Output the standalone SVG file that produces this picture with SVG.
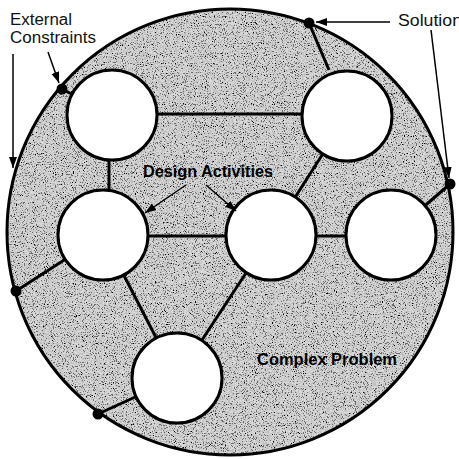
<svg xmlns="http://www.w3.org/2000/svg" width="459" height="459" viewBox="0 0 459 459">
<style>
.lbl{font-family:"Liberation Sans",Arial,sans-serif;font-size:16px;fill:#111}
.bold{font-family:"Liberation Sans",Arial,sans-serif;font-size:16px;font-weight:bold;fill:#000}
.node{fill:#fff;stroke:#000;stroke-width:3}
.conn{stroke:#000;stroke-width:3;fill:none}
.arr{stroke:#000;stroke-width:1.5;fill:none;marker-end:url(#ah)}
.dot{fill:#000}
</style>
<defs>
<marker id="ah" markerUnits="userSpaceOnUse" markerWidth="12" markerHeight="10" refX="11" refY="4" orient="auto">
<path d="M0,0 L11,4 L0,8 Z" fill="#000"/>
</marker>
<filter id="noise" x="0" y="0" width="100%" height="100%">
<feTurbulence type="fractalNoise" baseFrequency="0.9" numOctaves="3" seed="7" result="t"/>
<feColorMatrix in="t" type="matrix" values="0 0 0 0 0  0 0 0 0 0  0 0 0 0 0  1 0 0 0 0" result="a"/>
<feComponentTransfer in="a" result="s"><feFuncA type="discrete" tableValues="0 0 0 0 0.12 0.5 1 1"/></feComponentTransfer>
<feComposite in="s" in2="SourceGraphic" operator="in"/>
</filter>
</defs>
<rect width="459" height="459" fill="#fff"/>
<g id="problem">
<circle cx="230" cy="232" r="223" fill="#d8d8d8"/>
<circle cx="230" cy="232" r="223" fill="#000" filter="url(#noise)"/>
<circle cx="230" cy="232" r="223" fill="none" stroke="#000" stroke-width="3"/>
</g>
<g id="connectors">
<line class="conn" x1="112" y1="114" x2="347" y2="114"/>
<line class="conn" x1="109" y1="150" x2="109" y2="200"/>
<line class="conn" x1="347" y1="116" x2="271" y2="235"/>
<line class="conn" x1="103" y1="236" x2="391" y2="236"/>
<line class="conn" x1="103" y1="235" x2="177" y2="378"/>
<line class="conn" x1="271" y1="235" x2="177" y2="378"/>
<line class="conn" x1="329" y1="70" x2="309" y2="23"/>
<line class="conn" x1="391" y1="235" x2="450" y2="184"/>
<line class="conn" x1="103" y1="235" x2="16" y2="291"/>
<line class="conn" x1="177" y1="378" x2="98" y2="414"/>
<line class="conn" x1="112" y1="115" x2="62" y2="89"/>
</g>
<g id="dots">
<circle class="dot" cx="309" cy="23" r="5.5"/>
<circle class="dot" cx="450" cy="184" r="5.5"/>
<circle class="dot" cx="16" cy="291" r="5.5"/>
<circle class="dot" cx="98" cy="414" r="5.5"/>
<circle class="dot" cx="62" cy="89" r="5.5"/>
</g>
<g id="node1"><circle class="node" cx="112" cy="115" r="45"/></g>
<g id="node2"><circle class="node" cx="347" cy="116" r="45"/></g>
<g id="node3"><circle class="node" cx="103" cy="235" r="45"/></g>
<g id="node4"><circle class="node" cx="271" cy="235" r="45"/></g>
<g id="node5"><circle class="node" cx="391" cy="235" r="45"/></g>
<g id="node6"><circle class="node" cx="177" cy="378" r="45"/></g>
<g id="arrows">
<line class="arr" x1="48" y1="52" x2="59" y2="83"/>
<line class="arr" x1="13" y1="54" x2="13" y2="168"/>
<line class="arr" x1="390" y1="22" x2="316" y2="22"/>
<line class="arr" x1="431" y1="30" x2="449" y2="178"/>
<line class="arr" x1="186" y1="185" x2="145" y2="213"/>
<line class="arr" x1="206" y1="185" x2="236" y2="211"/>
</g>
<g id="labels">
<text class="lbl" x="10" y="25" textLength="62" lengthAdjust="spacingAndGlyphs">External</text>
<text class="lbl" x="10" y="43" textLength="86" lengthAdjust="spacingAndGlyphs">Constraints</text>
<text class="lbl" x="398" y="26" textLength="64" lengthAdjust="spacingAndGlyphs">Solution</text>
<text class="bold" x="143" y="177" textLength="130" lengthAdjust="spacingAndGlyphs">Design Activities</text>
<text class="bold" x="257" y="365" textLength="140" lengthAdjust="spacingAndGlyphs">Complex Problem</text>
</g>
</svg>
